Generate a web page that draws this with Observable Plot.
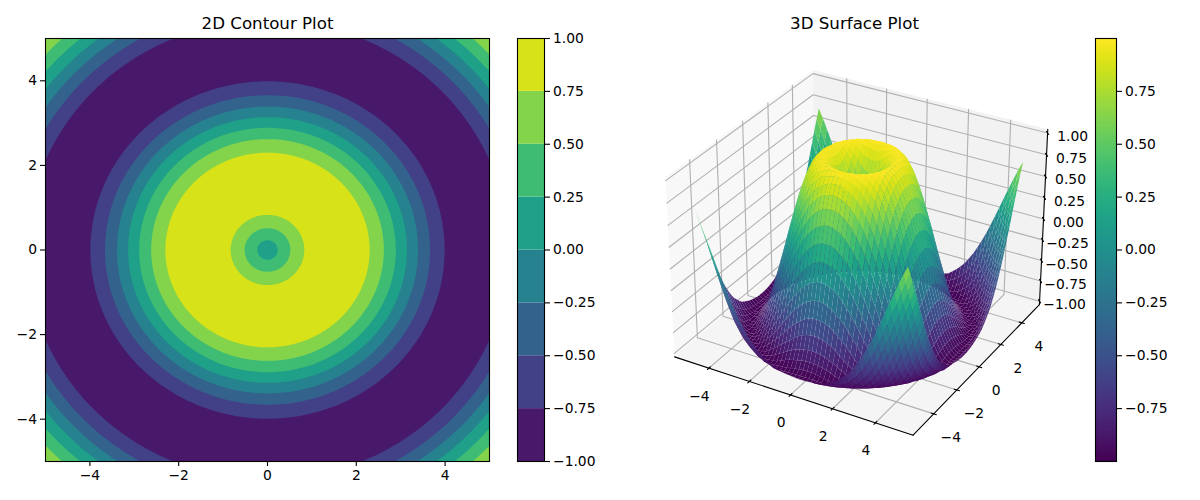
<!DOCTYPE html>
<html>
<head>
<meta charset="utf-8">
<script src="https://cdn.jsdelivr.net/npm/d3@7"></script>
<script src="https://cdn.jsdelivr.net/npm/@observablehq/plot@0.6"></script>
<style>
  html, body { margin: 0; padding: 0; background: #fff; }
  #chart { position: relative; width: 1200px; height: 500px; overflow: hidden; }
  #chart svg { position: absolute; top: 0; background: transparent; }
</style>
</head>
<body>
<div id="chart"></div>
<script>
// ---------- values ----------
const titleLeft = "2D Contour Plot";
const titleRight = "3D Surface Plot";
const axisTicks = [-4, -2, 0, 2, 4];
const contourBarTicks = [-1, -0.75, -0.5, -0.25, 0, 0.25, 0.5, 0.75, 1];
const surfaceBarTicks = [-0.75, -0.5, -0.25, 0, 0.25, 0.5, 0.75];
const zTicks = [-1, -0.75, -0.5, -0.25, 0, 0.25, 0.5, 0.75, 1];

// contour rings: outer radius of each band, and the band's middle level
const ringRadii  = [8.00, 6.81, 6.54, 6.28, 6.03, 5.76, 5.43, 3.99, 3.66, 3.39, 3.14, 2.89, 2.62, 2.30, 0.83, 0.515, 0.23];
const ringLevels = [0.625, 0.375, 0.125, -0.125, -0.375, -0.625, -0.875, -0.625, -0.375, -0.125, 0.125, 0.375, 0.625, 0.875, 0.625, 0.375, 0.125];
const bandEdges  = [-1, -0.75, -0.5, -0.25, 0, 0.25, 0.5, 0.75];

// surface height read along a radius, one value every 0.25 units from the centre
const profileStep = 0.25;
const profileHeights = [0, 0.25, 0.48, 0.68, 0.84, 0.95, 1.0, 0.98, 0.91, 0.78, 0.6, 0.38, 0.14, -0.11, -0.35, -0.57,
  -0.76, -0.89, -0.98, -1.0, -0.96, -0.86, -0.71, -0.51, -0.28, -0.03, 0.22, 0.45, 0.66, 0.82];

const fontFamily = "DejaVu Sans, sans-serif";
const tickFont = "13.89px";
const titleFont = 16.67;
const viridis = {type: "linear", scheme: "viridis", domain: [-1, 1]};
const chart = document.getElementById("chart");
function place(svg, left) { svg.style.left = left + "px"; chart.appendChild(svg); }

// ---------- left panel: contour bands ----------
const angles = d3.range(0, 360, 1.5).map(d => d * Math.PI / 180);
const ringPoints = ringRadii.flatMap((r, i) =>
  angles.map(a => ({ring: i, level: ringLevels[i], x: r * Math.cos(a), y: r * Math.sin(a)})));

place(Plot.plot({
  width: 505, height: 500,
  marginLeft: 45, marginRight: 16, marginTop: 38, marginBottom: 39,
  style: {fontFamily, fontSize: tickFont, color: "black", background: "transparent"},
  x: {domain: [-5, 5], axis: null},
  y: {domain: [-5, 5], axis: null},
  color: viridis,
  marks: [
    Plot.line(ringPoints, {x: "x", y: "y", z: "ring", fill: "level", stroke: null, curve: "linear-closed", clip: true}),
    Plot.frame({stroke: "black", strokeWidth: 1.1}),
    Plot.axisX({ticks: axisTicks, tickSize: 5, tickPadding: 3.5, strokeWidth: 1.1, label: null, tickFormat: d3.format("d"), fontSize: 13.89}),
    Plot.axisY({ticks: axisTicks, tickSize: 5, tickPadding: 3.5, strokeWidth: 1.1, label: null, tickFormat: d3.format("d"), fontSize: 13.89}),
    Plot.text([titleLeft], {frameAnchor: "top", dy: -15, fontSize: titleFont, fill: "black", lineAnchor: "middle"})
  ]
}), 0);

// ---------- left colour bar ----------
place(Plot.plot({
  width: 95, height: 500,
  marginLeft: 12, marginRight: 56, marginTop: 38, marginBottom: 39,
  style: {fontFamily, fontSize: tickFont, color: "black", background: "transparent", overflow: "visible"},
  x: {domain: [0, 1], axis: null},
  y: {domain: [-1, 1], axis: null},
  color: viridis,
  marks: [
    Plot.rect(bandEdges, {x1: 0, x2: 1, y1: d => d, y2: d => d + 0.25, fill: d => d + 0.125}),
    Plot.frame({stroke: "black", strokeWidth: 1.1}),
    Plot.axisY({anchor: "right", ticks: contourBarTicks, tickSize: 5, tickPadding: 3.5, strokeWidth: 1.1, label: null, tickFormat: d3.format(".2f"), fontSize: 13.89})
  ]
}), 505);

// ---------- right panel: perspective view (elevation 30, azimuth -60, distance 10) ----------
const xyLimit = 5.5, zLimit = 1, boxXY = 1.19, boxZ = 0.893;
const paneXY = xyLimit * 25 / 24, paneZ = zLimit * 25 / 24;
const distance = 10;
const U = [0.866025, 0.5, 0], V = [-0.25, 0.433013, 0.866025], W = [0.433013, -0.75, 0.5];
function project(x, y, z) {
  const d = [x / (2 * xyLimit) * boxXY, y / (2 * xyLimit) * boxXY, z / (2 * zLimit) * boxZ];
  const dot = a => a[0] * d[0] + a[1] * d[1] + a[2] * d[2];
  const depth = distance - dot(W);
  return {px: dot(U) / depth, py: dot(V) / depth, depth};
}
function heightAt(r) {
  const i = Math.min(Math.floor(r / profileStep), profileHeights.length - 2);
  const t = r / profileStep - i;
  return profileHeights[i] * (1 - t) + profileHeights[i + 1] * t;
}
const meshCount = 50;
const meshAxis = d3.range(meshCount + 1).map(i => -5 + 10 * i / meshCount);
const facets = [];
for (let i = 0; i < meshCount; i++) for (let j = 0; j < meshCount; j++) {
  const corners = [[i, j], [i + 1, j], [i + 1, j + 1], [i, j + 1]].map(([a, b]) => {
    const x = meshAxis[a], y = meshAxis[b], z = heightAt(Math.hypot(x, y));
    return {z, ...project(x, y, z)};
  });
  facets.push({corners, depth: d3.mean(corners, c => c.depth), level: d3.mean(corners, c => c.z)});
}
facets.sort((a, b) => b.depth - a.depth);
const facetPoints = facets.flatMap((f, id) => f.corners.map(c => ({id, level: f.level, px: c.px, py: c.py})));

const P = paneXY, Q = paneZ;
const panePoints = [
  {id: "x", tone: "#f8f8f8", pts: [[-P, -P, -Q], [-P, P, -Q], [-P, P, Q], [-P, -P, Q]]},
  {id: "y", tone: "#f2f2f2", pts: [[-P, P, -Q], [P, P, -Q], [P, P, Q], [-P, P, Q]]},
  {id: "z", tone: "#f5f5f5", pts: [[-P, -P, -Q], [P, -P, -Q], [P, P, -Q], [-P, P, -Q]]}
].flatMap(p => p.pts.map(q => ({id: p.id, tone: p.tone, ...project(...q)})));

const path3 = (id, pts) => pts.map(q => ({id, ...project(...q)}));
const gridPoints = [
  ...axisTicks.flatMap(t => path3("gx" + t, [[t, -P, -Q], [t, P, -Q], [t, P, Q]])),
  ...axisTicks.flatMap(t => path3("gy" + t, [[P, t, -Q], [-P, t, -Q], [-P, t, Q]])),
  ...zTicks.flatMap(t => path3("gz" + t, [[-P, -P, t], [-P, P, t], [P, P, t]]))
];
const axisPoints = [
  ...path3("ax", [[-P, -P, -Q], [P, -P, -Q]]),
  ...path3("ay", [[P, -P, -Q], [P, P, -Q]]),
  ...path3("az", [[P, P, -Q], [P, P, Q]])
];
const tickPoints = [
  ...axisTicks.flatMap(t => path3("tx" + t, [[t, -P - 0.12, -Q], [t, -P + 0.12, -Q]])),
  ...axisTicks.flatMap(t => path3("ty" + t, [[P + 0.12, t, -Q], [P - 0.12, t, -Q]])),
  ...zTicks.flatMap(t => path3("tz" + t, [[P + 0.1, P - 0.1, t], [P - 0.1, P + 0.1, t]]))
];
const xLabels = axisTicks.map(t => ({t, ...project(t, -P, -Q)}));
const yLabels = axisTicks.map(t => ({t, ...project(P, t, -Q)}));
const zLabels = zTicks.map(t => ({t, ...project(P, P, t)}));

const pxPerUnit = 2204, centreX = 860 - 630, centreY = 243, viewW = 460, viewH = 500;
const lineBase = {x: "px", y: "py", z: "id"};
place(Plot.plot({
  width: viewW, height: viewH,
  margin: 0,
  style: {fontFamily, fontSize: tickFont, color: "black", background: "transparent"},
  x: {domain: [-centreX / pxPerUnit, (viewW - centreX) / pxPerUnit], range: [0, viewW], axis: null},
  y: {domain: [(centreY - viewH) / pxPerUnit, centreY / pxPerUnit], range: [viewH, 0], axis: null},
  color: viridis,
  marks: [
    Plot.line(panePoints, {...lineBase, fill: "tone", stroke: null, curve: "linear-closed"}),
    Plot.line(gridPoints, {...lineBase, stroke: "#b0b0b0", strokeWidth: 1.1, curve: "linear"}),
    Plot.line(axisPoints, {...lineBase, stroke: "black", strokeWidth: 1.1, curve: "linear"}),
    Plot.line(tickPoints, {...lineBase, stroke: "black", strokeWidth: 1.1, curve: "linear"}),
    Plot.line(facetPoints, {...lineBase, fill: "level", stroke: null, curve: "linear-closed"}),
    Plot.text(xLabels, {x: "px", y: "py", text: d => d3.format("d")(d.t), dx: -9.5, dy: 28, fontSize: 13.89, fill: "black"}),
    Plot.text(yLabels, {x: "px", y: "py", text: d => d3.format("d")(d.t), dx: 17, dy: 24, fontSize: 13.89, fill: "black"}),
    Plot.text(zLabels, {x: "px", y: "py", text: d => d3.format(".2f")(d.t), dx: 25, dy: 3.5, fontSize: 13.89, fill: "black"}),
    Plot.text([titleRight], {frameAnchor: "top", dx: -6, dy: 23, fontSize: titleFont, fill: "black", lineAnchor: "middle"})
  ]
}), 630);

// ---------- right colour bar ----------
const barStops = d3.range(256).map(i => -1 + 2 * i / 256);
place(Plot.plot({
  width: 115, height: 500,
  marginLeft: 10, marginRight: 84, marginTop: 38, marginBottom: 39,
  style: {fontFamily, fontSize: tickFont, color: "black", background: "transparent"},
  x: {domain: [0, 1], axis: null},
  y: {domain: [-1, 1], axis: null},
  color: viridis,
  marks: [
    Plot.rect(barStops, {x1: 0, x2: 1, y1: d => d, y2: d => d + 2 / 256, fill: d => d + 1 / 256, shapeRendering: "crispEdges"}),
    Plot.frame({stroke: "black", strokeWidth: 1.1}),
    Plot.axisY({anchor: "right", ticks: surfaceBarTicks, tickSize: 5, tickPadding: 3.5, strokeWidth: 1.1, label: null, tickFormat: d3.format(".2f"), fontSize: 13.89})
  ]
}), 1085);
</script>
</body>
</html>
